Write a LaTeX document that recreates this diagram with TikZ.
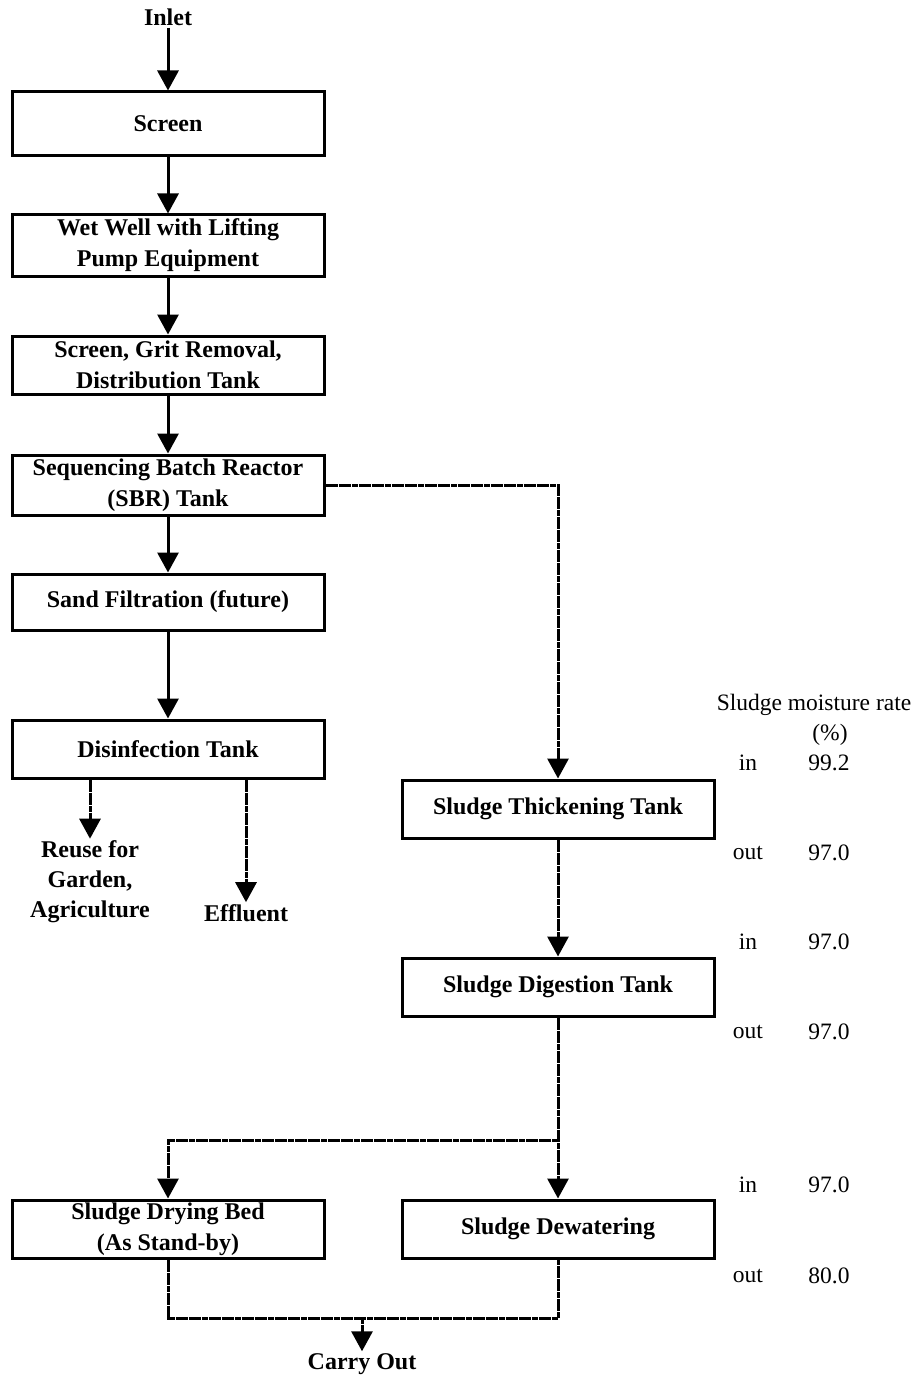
\documentclass[tikz,border=0pt]{standalone}
\usepackage{fontspec}
\setmainfont{Liberation Serif}
\usetikzlibrary{arrows.meta}
\begin{document}
\begin{tikzpicture}[x=1pt,y=-1pt,
  box/.style={draw,line width=3pt,rectangle,minimum width=312pt,inner sep=0pt,align=center,font=\fontsize{24}{31}\selectfont\bfseries},
  lbl/.style={inner sep=2pt,align=center,font=\fontsize{24}{30}\selectfont\bfseries},
  val/.style={inner sep=0pt,font=\fontsize{23.5}{28}\selectfont},
  arr/.style={line width=3pt,-{Triangle[width=21pt,length=20pt]}},
  sl/.style={line width=3pt,dash pattern=on 6pt off 0.6pt}]
\useasboundingbox (0,0) rectangle (917,1380);
% left chain
\node[lbl] (inlet) at (168,17) {Inlet};
\node[box,minimum height=64pt] (screen) at (168,124) {Screen};
\node[box,minimum height=61pt] (wetwell) at (168,245.5) {Wet Well with Lifting\\Pump Equipment};
\node[box,minimum height=58pt] (grit) at (168,365) {Screen, Grit Removal,\\Distribution Tank};
\node[box,minimum height=60pt] (sbr) at (168,485) {Sequencing Batch Reactor\\(SBR) Tank};
\node[box,minimum height=56pt] (sand) at (168,602) {Sand Filtration (future)};
\node[box,minimum height=58pt] (disinf) at (168,749) {Disinfection Tank};
\node[lbl] (reuse) at (90,882) {Reuse for\\Garden,\\Agriculture};
\node[lbl] (effl) at (246,913) {Effluent};
% sludge chain
\node[box,minimum height=58pt] (thick) at (558,809) {Sludge Thickening Tank};
\node[box,minimum height=58pt] (digest) at (558,987) {Sludge Digestion Tank};
\node[box,minimum height=58pt] (drying) at (168,1229) {Sludge Drying Bed\\(As Stand-by)};
\node[box,minimum height=58pt] (dewater) at (558,1229) {Sludge Dewatering};
\node[lbl] (carry) at (362,1364) {Carry Out};
% moisture table
\node[val] (mhead) at (814,705) {Sludge moisture rate};
\node[val] (mpct) at (830,735) {(\%)};
\node[val] (i1) at (748,763) {in};   \node[val] (v1) at (829,763) {99.2};
\node[val] (o1) at (748,853) {out};  \node[val] (v2) at (829,853) {97.0};
\node[val] (i2) at (748,942) {in};   \node[val] (v3) at (829,942) {97.0};
\node[val] (o2) at (748,1032) {out}; \node[val] (v4) at (829,1032) {97.0};
\node[val] (i3) at (748,1185) {in};  \node[val] (v5) at (829,1185) {97.0};
\node[val] (o3) at (748,1276) {out}; \node[val] (v6) at (829,1276) {80.0};
% connectors
\draw[arr] (inlet) -- (screen);
\draw[arr] (screen) -- (wetwell);
\draw[arr] (wetwell) -- (grit);
\draw[arr] (grit) -- (sbr);
\draw[arr] (sbr) -- (sand);
\draw[arr] (sand) -- (disinf);
\draw[arr,sl] (reuse.north |- disinf.south) -- (reuse.north);
\draw[arr,sl] (effl.north |- disinf.south) -- (effl.north);
\draw[arr,sl] (sbr.east) -| (thick.north);
\draw[arr,sl] (thick) -- (digest);
\draw[arr,sl] (digest) -- (dewater);
\coordinate (br) at (558,1140);
\draw[arr,sl] (br) -| (drying.north);
\coordinate (jl) at (168,1318);
\coordinate (jr) at (558,1318);
\coordinate (jm) at (362,1318);
\draw[sl] (drying.south) -- (jl) -- (jr) -- (dewater.south);
\draw[arr,sl] (jm) -- (carry.north);
\end{tikzpicture}
\end{document}
